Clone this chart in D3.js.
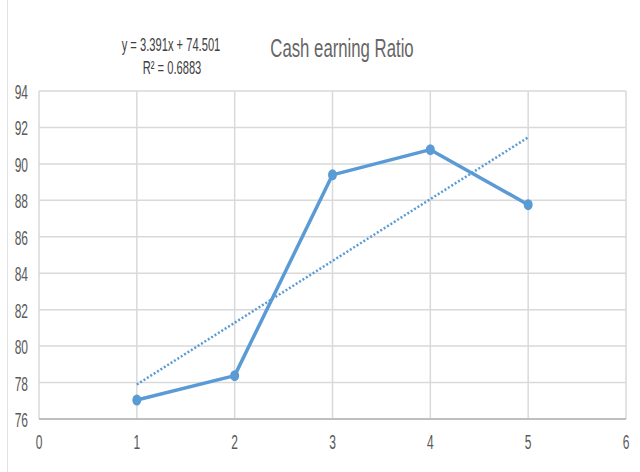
<!DOCTYPE html>
<html>
<head>
<meta charset="utf-8">
<script src="https://cdn.jsdelivr.net/npm/d3@7"></script>
<style>
  body { margin: 0; background: #fff; }
  text { font-family: "Liberation Sans", Arial, sans-serif; }
</style>
</head>
<body>
<div class="chart"></div>
<script>
// data
const xValues = [1, 2, 3, 4, 5];
const ratioValues = [77.04, 78.38, 89.40, 90.78, 87.76];
const xTicks = [0, 1, 2, 3, 4, 5, 6];
const yTicks = [76, 78, 80, 82, 84, 86, 88, 90, 92, 94];
const trendSlope = 3.391;
const trendIntercept = 74.501;
const chartTitle = "Cash earning Ratio";
const eqLabel = "y = 3.391x + 74.501";
const r2Label = "R² = 0.6883";

// condensed text: no narrow font installed, so squeeze horizontally
function narrowText(parent, px, py, str, size, sx, anchor, fill) {
    parent.append("g")
        .attr("transform", `translate(${px},${py}) scale(${sx},1)`)
        .append("text")
        .attr("text-anchor", anchor)
        .attr("font-size", size)
        .attr("fill", fill)
        .text(str);
}

function createLineChart() {
    const W = 640, H = 472;
    const margin = { top: 91, right: 14, bottom: 53, left: 39 };
    const width = W - margin.left - margin.right;
    const height = H - margin.top - margin.bottom;
    const blue = "#5b9bd5";

    const root = d3.select("div.chart").append("svg")
        .attr("width", W)
        .attr("height", H);

    // thin frame line at the left edge
    root.append("line")
        .attr("x1", 7.5).attr("x2", 7.5)
        .attr("y1", 0).attr("y2", H)
        .attr("stroke", "#e3e3e3");

    const svg = root.append("g")
        .attr("transform", `translate(${margin.left},${margin.top})`);

    const x = d3.scaleLinear().domain([0, 6]).range([0, width]);
    const y = d3.scaleLinear().domain([76, 94]).range([height, 0]);

    // gridlines
    svg.append("g")
        .selectAll("line")
        .data(yTicks)
        .enter().append("line")
        .attr("x1", 0).attr("x2", width)
        .attr("y1", d => y(d)).attr("y2", d => y(d))
        .attr("stroke", "#d9d9d9")
        .attr("stroke-width", 1.5);

    svg.append("g")
        .selectAll("line")
        .data(xTicks)
        .enter().append("line")
        .attr("x1", d => x(d)).attr("x2", d => x(d))
        .attr("y1", 0).attr("y2", height)
        .attr("stroke", "#d9d9d9")
        .attr("stroke-width", 1.5);

    // bottom axis line
    svg.append("line")
        .attr("x1", 0).attr("x2", width)
        .attr("y1", height).attr("y2", height)
        .attr("stroke", "#bfbfbf")
        .attr("stroke-width", 2);

    // tick labels
    yTicks.forEach(t => narrowText(svg, -11, y(t) + 8, String(t), 20, 0.6, "end", "#595959"));
    xTicks.forEach(t => narrowText(svg, x(t), height + 30, String(t), 20, 0.6, "middle", "#595959"));

    // trendline
    const xs = d3.extent(xValues);
    svg.append("line")
        .attr("x1", x(xs[0])).attr("y1", y(trendIntercept + trendSlope * xs[0]))
        .attr("x2", x(xs[1])).attr("y2", y(trendIntercept + trendSlope * xs[1]))
        .attr("stroke", blue)
        .attr("stroke-width", 2.5)
        .attr("stroke-dasharray", "2,2");

    // data line
    const points = xValues.map((v, i) => [v, ratioValues[i]]);
    svg.append("path")
        .datum(points)
        .attr("fill", "none")
        .attr("stroke", blue)
        .attr("stroke-width", 3.5)
        .attr("stroke-linejoin", "round")
        .attr("d", d3.line().x(d => x(d[0])).y(d => y(d[1])));

    svg.selectAll(".dot")
        .data(points)
        .enter().append("ellipse")
        .attr("cx", d => x(d[0]))
        .attr("cy", d => y(d[1]))
        .attr("rx", 4.5)
        .attr("ry", 5.5)
        .attr("fill", blue);

    // title and trendline equation
    narrowText(root, 342, 57, chartTitle, 25, 0.67, "middle", "#666666");
    narrowText(root, 171, 51, eqLabel, 18, 0.62, "middle", "#404040");
    narrowText(root, 172, 74, r2Label, 18, 0.62, "middle", "#404040");
}

createLineChart();
</script>
</body>
</html>
